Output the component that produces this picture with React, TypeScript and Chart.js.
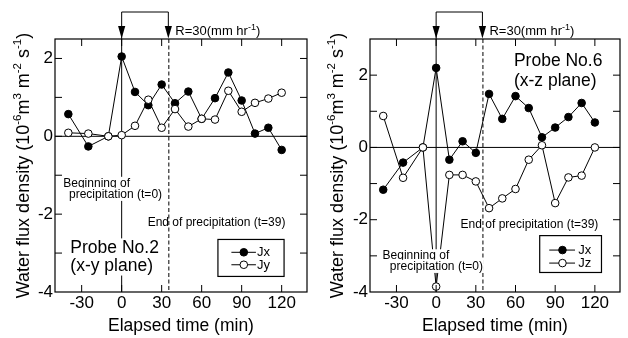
import React, { useEffect, useRef } from 'react';
import { Chart, registerables } from 'chart.js';

Chart.register(...registerables);

const FONT = '"Liberation Sans", Arial, Helvetica, sans-serif';

// ---- data ----
const times = [-40, -25, -10, 0, 10, 20, 30, 40, 50, 60, 70, 80, 90, 100, 110, 120];
const probe2Jx = [0.57, -0.26, 0, 2.05, 1.14, 0.8, 1.33, 0.85, 1.15, 0.45, 0.98, 1.64, 0.92, 0.07, 0.22, -0.35];
const probe2Jy = [0.09, 0.07, 0, 0.03, 0.27, 0.94, 0.22, 0.7, 0.25, 0.45, 0.43, 1.17, 0.63, 0.86, 0.97, 1.12];
const probe6Jx = [-1.17, -0.42, 0, 2.2, -0.34, 0.17, -0.15, 1.48, 0.79, 1.42, 1.09, 0.28, 0.55, 0.84, 1.23, 0.69];
const probe6Jz = [0.87, -0.84, 0, -3.85, -0.76, -0.76, -0.94, -1.68, -1.41, -1.15, -0.34, 0.06, -1.54, -0.83, -0.78, 0];
const xTicks = [-30, 0, 30, 60, 90, 120];
const yTickLabels = [-4, -2, 0, 2];
const precipStart = 0;
const precipEndMark = 35;

type Panel = {
  jx: number[];
  j2: number[];
  j2Label: string;
  yMax: number;
  leftWidth: number;
  rightPad: number;
  probe: { lines: string[]; x: number; y: number[] };
  begin: { x: number[]; y: number[] };
  end: { x: number; y: number };
  legend: { x0: number; x1: number; y0: number; y1: number; rows: number[]; lineX: [number, number]; markX: number; textX: number };
};

const panels: Panel[] = [
  {
    jx: probe2Jx,
    j2: probe2Jy,
    j2Label: 'Jy',
    yMax: 2.5,
    leftWidth: 55,
    rightPad: 7,
    probe: { lines: ['Probe No.2', '(x-y plane)'], x: -38.5, y: [-2.87, -3.33] },
    begin: { x: [-43.8, -39.5], y: [-1.21, -1.49] },
    end: { x: 19.5, y: -2.22 },
    legend: { x0: 72.2, x1: 121.8, y0: -2.65, y1: -3.6, rows: [-2.98, -3.3], lineX: [82.3, 100.7], markX: 91.6, textX: 101.5 },
  },
  {
    jx: probe6Jx,
    j2: probe6Jz,
    j2Label: 'Jz',
    yMax: 3,
    leftWidth: 56,
    rightPad: 8,
    probe: { lines: ['Probe No.6', '(x-z plane)'], x: 58.8, y: [2.39, 1.83] },
    begin: { x: [-40.5, -35], y: [-3.0, -3.29] },
    end: { x: 18.5, y: -2.15 },
    legend: { x0: 78.3, x1: 125, y0: -2.44, y1: -3.46, rows: [-2.84, -3.2], lineX: [85.5, 105], markX: 95.5, textX: 107.5 },
  },
];

type Part = { t: string; sup?: boolean };

function richWidth(ctx: CanvasRenderingContext2D, parts: Part[], main: number, sup: number) {
  let w = 0;
  for (const p of parts) {
    ctx.font = `${p.sup ? sup : main}px ${FONT}`;
    w += ctx.measureText(p.t).width;
  }
  return w;
}

function drawRich(ctx: CanvasRenderingContext2D, parts: Part[], x: number, y: number, main: number, sup: number, raise: number) {
  let cx = x;
  ctx.textBaseline = 'middle';
  ctx.textAlign = 'left';
  for (const p of parts) {
    ctx.font = `${p.sup ? sup : main}px ${FONT}`;
    ctx.fillText(p.t, cx, p.sup ? y - raise : y);
    cx += ctx.measureText(p.t).width;
  }
}

const yTitleParts: Part[] = [
  { t: 'Water flux density (10' },
  { t: '-6', sup: true },
  { t: 'm' },
  { t: '3', sup: true },
  { t: ' m' },
  { t: '-2', sup: true },
  { t: ' s' },
  { t: '-1', sup: true },
  { t: ')' },
];

const rParts: Part[] = [{ t: 'R=30(mm hr' }, { t: '-1', sup: true }, { t: ')' }];

function makePlugin(panel: Panel) {
  return {
    id: 'decor',
    beforeDatasetsDraw(chart: any) {
      const { ctx, chartArea: a, scales } = chart;
      const x = scales.x;
      const y = scales.y;
      ctx.save();
      ctx.strokeStyle = '#000';
      ctx.fillStyle = '#000';
      ctx.lineWidth = 1;
      const y0 = y.getPixelForValue(0);
      ctx.beginPath();
      ctx.moveTo(a.left, y0);
      ctx.lineTo(a.right, y0);
      ctx.stroke();
      const xs = x.getPixelForValue(precipStart);
      const xe = x.getPixelForValue(precipEndMark);
      const topB = a.top - 27;
      ctx.beginPath();
      ctx.moveTo(xs, a.bottom);
      ctx.lineTo(xs, topB);
      ctx.lineTo(xe, topB);
      ctx.lineTo(xe, a.top - 12);
      ctx.stroke();
      for (const ax of [xs, xe]) {
        ctx.beginPath();
        ctx.moveTo(ax - 3.6, a.top - 13);
        ctx.lineTo(ax + 3.6, a.top - 13);
        ctx.lineTo(ax, a.top - 0.5);
        ctx.closePath();
        ctx.fill();
      }
      ctx.setLineDash([4, 2.5]);
      ctx.beginPath();
      ctx.moveTo(xe + 0.5, a.top);
      ctx.lineTo(xe + 0.5, a.bottom);
      ctx.stroke();
      ctx.restore();
    },
    afterDatasetsDraw(chart: any) {
      const { ctx, chartArea: a, scales } = chart;
      const x = scales.x;
      const y = scales.y;
      ctx.save();
      const label = (text: string, px: number, py: number, size: number, bg: boolean) => {
        ctx.font = `${size}px ${FONT}`;
        ctx.textBaseline = 'middle';
        ctx.textAlign = 'left';
        const w = ctx.measureText(text).width;
        if (bg) {
          ctx.fillStyle = '#fff';
          ctx.fillRect(px - 1, py - size * 0.55, w + 2, size * 1.1);
        }
        ctx.fillStyle = '#000';
        ctx.fillText(text, px, py);
      };
      label('Beginning of', x.getPixelForValue(panel.begin.x[0]), y.getPixelForValue(panel.begin.y[0]), 12, true);
      label('precipitation (t=0)', x.getPixelForValue(panel.begin.x[1]), y.getPixelForValue(panel.begin.y[1]), 12, true);
      label('End of precipitation (t=39)', x.getPixelForValue(panel.end.x), y.getPixelForValue(panel.end.y), 12, false);
      panel.probe.lines.forEach((t, i) => {
        label(t, x.getPixelForValue(panel.probe.x), y.getPixelForValue(panel.probe.y[i]), 17.5, true);
      });
      ctx.fillStyle = '#000';
      drawRich(ctx, rParts, x.getPixelForValue(precipEndMark) + 7, a.top - 7.5, 13, 9, 4);
      // legend
      const L = panel.legend;
      const bx0 = x.getPixelForValue(L.x0);
      const bx1 = x.getPixelForValue(L.x1);
      const by0 = y.getPixelForValue(L.y0);
      const by1 = y.getPixelForValue(L.y1);
      ctx.fillStyle = '#fff';
      ctx.fillRect(bx0, by0, bx1 - bx0, by1 - by0);
      ctx.strokeStyle = '#000';
      ctx.lineWidth = 1.2;
      ctx.strokeRect(bx0, by0, bx1 - bx0, by1 - by0);
      const names = ['Jx', panel.j2Label];
      L.rows.forEach((ry, i) => {
        const py = y.getPixelForValue(ry);
        ctx.lineWidth = 1;
        ctx.beginPath();
        ctx.moveTo(x.getPixelForValue(L.lineX[0]), py);
        ctx.lineTo(x.getPixelForValue(L.lineX[1]), py);
        ctx.stroke();
        ctx.beginPath();
        ctx.arc(x.getPixelForValue(L.markX), py, 3.8, 0, Math.PI * 2);
        ctx.fillStyle = i === 0 ? '#000' : '#fff';
        ctx.fill();
        ctx.stroke();
        ctx.fillStyle = '#000';
        ctx.font = `13px ${FONT}`;
        ctx.textBaseline = 'middle';
        ctx.textAlign = 'left';
        ctx.fillText(names[i], x.getPixelForValue(L.textX), py + 0.5);
      });
      ctx.restore();
    },
    afterDraw(chart: any) {
      const { ctx, chartArea: a, scales } = chart;
      const x = scales.x;
      const y = scales.y;
      ctx.save();
      ctx.strokeStyle = '#000';
      ctx.lineWidth = 1.2;
      ctx.strokeRect(a.left, a.top, a.right - a.left, a.bottom - a.top);
      ctx.lineWidth = 1;
      const tl = 7;
      ctx.beginPath();
      for (const v of xTicks) {
        const px = x.getPixelForValue(v);
        ctx.moveTo(px, a.bottom);
        ctx.lineTo(px, a.bottom - tl);
        ctx.moveTo(px, a.top);
        ctx.lineTo(px, a.top + tl);
      }
      for (let v = -3; v < panel.yMax; v += 1) {
        const py = y.getPixelForValue(v);
        ctx.moveTo(a.left, py);
        ctx.lineTo(a.left + tl, py);
        ctx.moveTo(a.right, py);
        ctx.lineTo(a.right - tl, py);
      }
      ctx.stroke();
      // y title
      ctx.translate(24.5, (a.top + a.bottom) / 2);
      ctx.rotate(-Math.PI / 2);
      ctx.fillStyle = '#000';
      const w = richWidth(ctx, yTitleParts, 18, 11.5);
      drawRich(ctx, yTitleParts, -w / 2, 0, 18, 11.5, 7);
      ctx.restore();
    },
  };
}

function makeConfig(panel: Panel): any {
  const pts = (vals: number[]) => times.map((t, i) => ({ x: t, y: vals[i] }));
  return {
    type: 'line',
    data: {
      datasets: [
        {
          label: 'Jx',
          data: pts(panel.jx),
          borderColor: '#000',
          borderWidth: 1,
          pointRadius: 3.8,
          pointBackgroundColor: '#000',
          pointBorderColor: '#000',
          pointBorderWidth: 1,
          tension: 0,
          order: 2,
        },
        {
          label: panel.j2Label,
          data: pts(panel.j2),
          borderColor: '#000',
          borderWidth: 1,
          pointRadius: 3.8,
          pointBackgroundColor: '#fff',
          pointBorderColor: '#000',
          pointBorderWidth: 1,
          tension: 0,
          order: 1,
        },
      ],
    },
    options: {
      animation: false,
      responsive: false,
      maintainAspectRatio: false,
      layout: { padding: { top: 39, right: panel.rightPad, left: 0, bottom: 0 } },
      scales: {
        x: {
          type: 'linear',
          min: -50,
          max: 139,
          afterBuildTicks: (s: any) => {
            s.ticks = xTicks.map((v) => ({ value: v }));
          },
          afterFit: (s: any) => {
            s.height = 46;
          },
          grid: { display: false, drawTicks: false },
          border: { display: false },
          ticks: { color: '#000', font: { family: FONT, size: 17 }, padding: 1, maxRotation: 0, autoSkip: false },
          title: { display: true, text: 'Elapsed time (min)', color: '#000', font: { family: FONT, size: 17.5 }, padding: { top: 0, bottom: 1 } },
        },
        y: {
          type: 'linear',
          min: -4,
          max: panel.yMax,
          afterBuildTicks: (s: any) => {
            s.ticks = yTickLabels.map((v) => ({ value: v }));
          },
          afterFit: (s: any) => {
            s.width = panel.leftWidth;
          },
          grid: { display: false, drawTicks: false },
          border: { display: false },
          ticks: { color: '#000', font: { family: FONT, size: 17 }, padding: 2, autoSkip: false },
        },
      },
      plugins: { legend: { display: false }, tooltip: { enabled: false }, title: { display: false } },
    },
    plugins: [makePlugin(panel)],
  };
}

function PanelChart({ panel }: { panel: Panel }) {
  const ref = useRef<HTMLCanvasElement | null>(null);
  useEffect(() => {
    if (!ref.current) return;
    const chart = new Chart(ref.current, makeConfig(panel));
    return () => chart.destroy();
  }, [panel]);
  return <canvas ref={ref} width={314} height={338} style={{ display: 'block', width: 314, height: 338 }} />;
}

export default function App() {
  return (
    <div style={{ position: 'absolute', left: 0, top: 0, width: 628, height: 338, display: 'flex', background: '#fff' }}>
      {panels.map((p, i) => (
        <PanelChart key={i} panel={p} />
      ))}
    </div>
  );
}
